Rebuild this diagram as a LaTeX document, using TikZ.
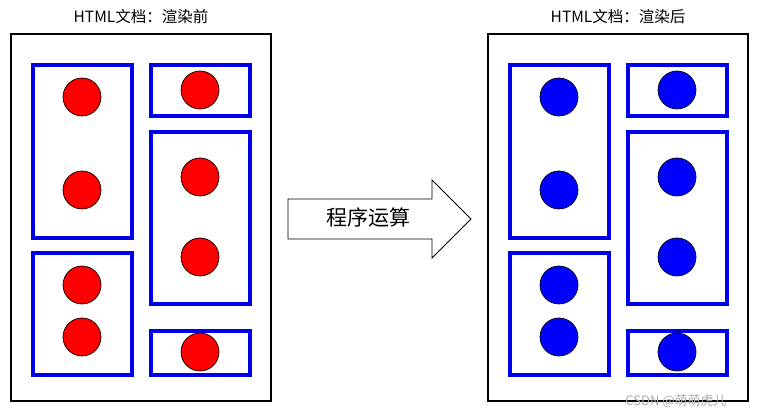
\documentclass[tikz,border=0pt]{standalone}
\usepackage{fontspec}
\setmainfont{Noto Sans CJK SC}
\begin{document}
\begin{tikzpicture}[x=1pt,y=-1pt,
  frame/.style={draw=black,line width=2.6pt},
  blk/.style={draw={rgb,255:red,0;green,0;blue,235},line width=3.3pt},
  dot/.style={circle,draw=black,line width=0.7pt,minimum size=38pt,inner sep=0pt},
  ttl/.style={font=\fontsize{15.5}{17}\selectfont}]
\useasboundingbox (0,0) rectangle (758,419);
\foreach \o/\c/\t/\n in {0/red/渲染前/L,477/blue/渲染后/R}{
  \begin{scope}[xshift=\o]
  \node[ttl] (t\n) at (141,17) {HTML文档：\t};
  \draw[frame] (11,34) rectangle (271,401);
  \draw[blk] (33,65) rectangle (132,238);
  \draw[blk] (151,65) rectangle (250,116);
  \draw[blk] (151,132) rectangle (250,304);
  \draw[blk] (33,253) rectangle (132,375);
  \draw[blk] (151,331) rectangle (250,375);
  \foreach \x/\y in {82/97,82/190,82/285,82/337,200/90,200/177,200/257,200/352}
    \node[dot,fill=\c] at (\x,\y) {};
  \end{scope}}
\draw[line width=0.9pt,fill=white] (288,199) -- (432,199) -- (432,180) -- (471,219) -- (432,258) -- (432,239) -- (288,239) -- cycle;
\node[font=\fontsize{21}{23}\selectfont] (op) at (368,218) {程序运算};
\node[font=\fontsize{13}{15}\selectfont,text=gray!65] (wm) at (676,401) {CSDN @萌萌虎儿};
\end{tikzpicture}
\end{document}
